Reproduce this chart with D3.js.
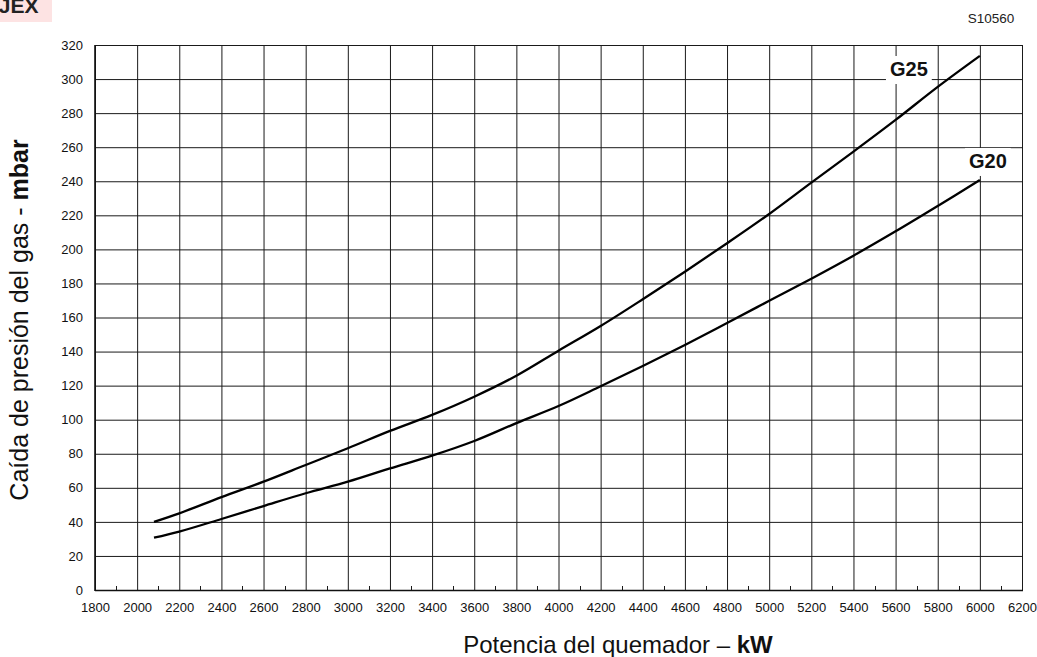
<!DOCTYPE html>
<html>
<head>
<meta charset="utf-8">
<script src="https://cdn.jsdelivr.net/npm/d3@7"></script>
<style>
  body { margin: 0; background: #fff; }
  svg { font-family: "Liberation Sans", Arial, sans-serif; }
</style>
</head>
<body>
<div id="chart"></div>
<script>
// data
var power = [2080, 2200, 2400, 2600, 2800, 3000, 3200, 3400, 3600, 3800, 4000,
             4200, 4400, 4600, 4800, 5000, 5200, 5400, 5600, 5800, 6000];
var g25 = [40, 45, 54.5, 63.6, 73.4, 83.2, 93.4, 102.8, 113.5, 125.8, 140.5,
           155, 170.7, 186.9, 203.6, 220.8, 239.2, 257.4, 276, 295.4, 313.6];
var g20 = [30.7, 34.3, 41.7, 49.3, 56.8, 63.6, 71.4, 78.9, 87.5, 98, 108,
           119.6, 131.5, 143.9, 156.8, 169.8, 182.8, 196.3, 210.6, 225.5, 240.7];
var seriesNames = ["G25", "G20"];
var labelAt = [[5663, 301.8], [6038, 247.8]];   // where the gas names sit (kW, mbar)
var xTicks = d3.range(1800, 6201, 200);
var xMinor = d3.range(1900, 6200, 200);
var yTicks = d3.range(0, 321, 20);

var W = 1037, H = 657;
var margin = {top: 45, right: 15, bottom: 67, left: 95};
var plotW = 1022 - margin.left, plotH = 590 - margin.top;

var svg = d3.select("#chart").append("svg")
    .attr("width", W).attr("height", H);

// corner tag and drawing number
svg.append("rect").attr("x", 0).attr("y", 0).attr("width", 52).attr("height", 22)
    .attr("fill", "#fde3e3");
svg.append("text").attr("x", 38.5).attr("y", 13)
    .attr("text-anchor", "end").attr("font-weight", "bold").attr("font-size", 21)
    .attr("fill", "#222").text("JEX");
svg.append("text").attr("x", 991).attr("y", 23)
    .attr("text-anchor", "middle").attr("font-size", 13.5).attr("fill", "#222")
    .text("S10560");

var g = svg.append("g").attr("transform", "translate(" + margin.left + "," + margin.top + ")");

var x = d3.scaleLinear().domain([1800, 6200]).range([0, plotW]);
var y = d3.scaleLinear().domain([0, 320]).range([plotH, 0]);

// grid via axes
var xAxis = g.append("g").attr("transform", "translate(0," + plotH + ")")
    .call(d3.axisBottom(x).tickValues(xTicks).tickSize(-plotH).tickPadding(13).tickFormat(d3.format("d")));
var yAxis = g.append("g")
    .call(d3.axisLeft(y).tickValues(yTicks).tickSize(-plotW).tickPadding(12));

[xAxis, yAxis].forEach(function (a) {
    a.select(".domain").remove();
    a.selectAll("line").attr("stroke", "#1a1a1a").attr("stroke-width", 1);
    a.selectAll("text").attr("font-size", 13).attr("fill", "#111")
        .attr("font-family", "'Liberation Sans', Arial, sans-serif");
});

// minor ticks on the x axis
g.append("g").selectAll("line").data(xMinor).join("line")
    .attr("x1", function (d) { return Math.round(x(d)) + 0.5; })
    .attr("x2", function (d) { return Math.round(x(d)) + 0.5; })
    .attr("y1", plotH).attr("y2", plotH - 4)
    .attr("stroke", "#1a1a1a");

// frame
g.append("rect").attr("x", 0.5).attr("y", 0.5).attr("width", plotW).attr("height", plotH)
    .attr("fill", "none").attr("stroke", "#1a1a1a").attr("stroke-width", 1);
g.append("line").attr("x1", 0).attr("x2", 0).attr("y1", 0).attr("y2", plotH + 1)
    .attr("stroke", "#111").attr("stroke-width", 1.6);
g.append("line").attr("x1", 0).attr("x2", plotW + 1).attr("y1", plotH + 0.5).attr("y2", plotH + 0.5)
    .attr("stroke", "#111").attr("stroke-width", 1.6);

// curves
var line = d3.line()
    .curve(d3.curveCatmullRom.alpha(0.5))
    .x(function (d) { return x(d[0]); })
    .y(function (d) { return y(d[1]); });

[g25, g20].forEach(function (vals) {
    g.append("path")
        .attr("d", line(power.map(function (p, i) { return [p, vals[i]]; })))
        .attr("fill", "none").attr("stroke", "#000").attr("stroke-width", 2.3);
});

// gas labels on white patches
seriesNames.forEach(function (name, i) {
    var t = g.append("text")
        .attr("x", x(labelAt[i][0])).attr("y", y(labelAt[i][1]))
        .attr("text-anchor", "middle").attr("font-weight", "bold").attr("font-size", 20)
        .attr("fill", "#111").text(name);
    var b = t.node().getBBox();
    g.insert("rect", function () { return t.node(); })
        .attr("x", b.x - 4).attr("y", b.y - 2)
        .attr("width", b.width + 8).attr("height", b.height + 6)
        .attr("fill", "#fff");
});

// axis titles
var xt = svg.append("text").attr("x", 618).attr("y", 653)
    .attr("text-anchor", "middle").attr("font-size", 24).attr("fill", "#111");
xt.append("tspan").text("Potencia del quemador \u2013 ");
xt.append("tspan").attr("font-weight", "bold").text("kW");

var yt = svg.append("text")
    .attr("transform", "translate(28,320) rotate(-90)")
    .attr("text-anchor", "middle").attr("font-size", 25).attr("fill", "#111");
yt.append("tspan").text("Ca\u00edda de presi\u00f3n del gas - ");
yt.append("tspan").attr("font-weight", "bold").text("mbar");
</script>
</body>
</html>
